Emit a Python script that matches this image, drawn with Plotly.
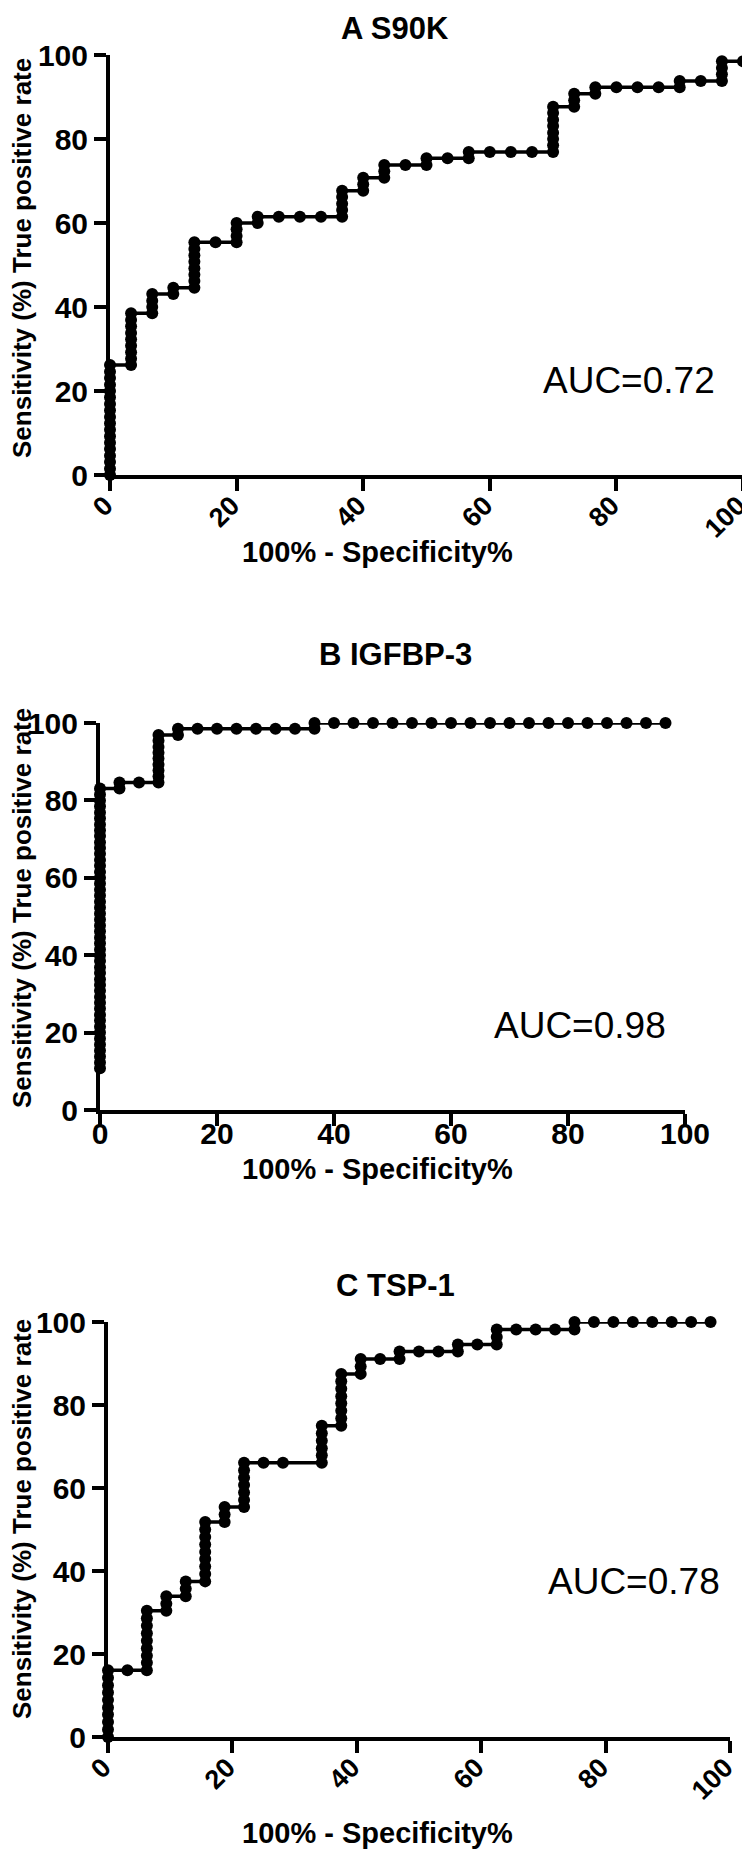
import plotly.graph_objects as go

# ---------------------------------------------------------------------------
# ROC points (x = 100% - specificity, y = sensitivity)
# ---------------------------------------------------------------------------
fpr_a = [
    0, 0, 0, 0, 0, 0, 0, 0, 0, 0, 0, 0, 0, 0, 0, 0, 0, 0,
    3.33, 3.33, 3.33, 3.33, 3.33, 3.33, 3.33, 3.33, 3.33,
    6.67, 6.67, 6.67, 6.67,
    10, 10,
    13.33, 13.33, 13.33, 13.33, 13.33, 13.33, 13.33, 13.33,
    16.67,
    20, 20, 20, 20,
    23.33, 23.33,
    26.67, 30, 33.33,
    36.67, 36.67, 36.67, 36.67, 36.67,
    40, 40, 40,
    43.33, 43.33, 43.33,
    46.67,
    50, 50,
    53.33,
    56.67, 56.67,
    60, 63.33, 66.67,
    70, 70, 70, 70, 70, 70, 70, 70,
    73.33, 73.33, 73.33,
    76.67, 76.67,
    80, 83.33, 86.67,
    90, 90,
    93.33,
    96.67, 96.67, 96.67, 96.67,
    100,
]
tpr_a = [
    0, 1.5, 3.1, 4.6, 6.2, 7.7, 9.2, 10.8, 12.3, 13.8, 15.4, 16.9, 18.5, 20.0, 21.5, 23.1, 24.6, 26.2,
    26.2, 27.7, 29.2, 30.8, 32.3, 33.8, 35.4, 36.9, 38.5,
    38.5, 40.0, 41.5, 43.1,
    43.1, 44.6,
    44.6, 46.2, 47.7, 49.2, 50.8, 52.3, 53.8, 55.4,
    55.4,
    55.4, 56.9, 58.5, 60.0,
    60.0, 61.5,
    61.5, 61.5, 61.5,
    61.5, 63.1, 64.6, 66.2, 67.7,
    67.7, 69.2, 70.8,
    70.8, 72.3, 73.8,
    73.8,
    73.8, 75.4,
    75.4,
    75.4, 76.9,
    76.9, 76.9, 76.9,
    76.9, 78.5, 80.0, 81.5, 83.1, 84.6, 86.2, 87.7,
    87.7, 89.2, 90.8,
    90.8, 92.3,
    92.3, 92.3, 92.3,
    92.3, 93.8,
    93.8,
    93.8, 95.4, 96.9, 98.5,
    98.5,
]

fpr_b = [
    0, 0, 0, 0, 0, 0, 0, 0, 0, 0, 0, 0,
    0, 0, 0, 0, 0, 0, 0, 0, 0, 0, 0, 0,
    0, 0, 0, 0, 0, 0, 0, 0, 0, 0, 0, 0,
    0, 0, 0, 0, 0, 0, 0, 0, 0, 0, 0, 0,
    3.33, 3.33,
    6.67,
    10, 10, 10, 10, 10, 10, 10, 10, 10,
    13.33, 13.33,
    16.67, 20, 23.33, 26.67, 30, 33.33,
    36.67, 36.67,
    40, 43.33, 46.67, 50, 53.33, 56.67, 60, 63.33, 66.67,
    70, 73.33, 76.67, 80, 83.33, 86.67, 90, 93.33, 96.67,
]
tpr_b = [
    10.8, 12.3, 13.8, 15.4, 16.9, 18.5, 20.0, 21.5, 23.1, 24.6, 26.2, 27.7,
    29.2, 30.8, 32.3, 33.8, 35.4, 36.9, 38.5, 40.0, 41.5, 43.1, 44.6, 46.2,
    47.7, 49.2, 50.8, 52.3, 53.8, 55.4, 56.9, 58.5, 60.0, 61.5, 63.1, 64.6,
    66.2, 67.7, 69.2, 70.8, 72.3, 73.8, 75.4, 76.9, 78.5, 80.0, 81.5, 83.1,
    83.1, 84.6,
    84.6,
    84.6, 86.2, 87.7, 89.2, 90.8, 92.3, 93.8, 95.4, 96.9,
    96.9, 98.5,
    98.5, 98.5, 98.5, 98.5, 98.5, 98.5,
    98.5, 100,
    100, 100, 100, 100, 100, 100, 100, 100, 100,
    100, 100, 100, 100, 100, 100, 100, 100, 100,
]

fpr_c = [
    0, 0, 0, 0, 0, 0, 0, 0, 0, 0,
    3.125,
    6.25, 6.25, 6.25, 6.25, 6.25, 6.25, 6.25, 6.25, 6.25,
    9.375, 9.375, 9.375,
    12.5, 12.5, 12.5,
    15.625, 15.625, 15.625, 15.625, 15.625, 15.625, 15.625, 15.625, 15.625,
    18.75, 18.75, 18.75,
    21.875, 21.875, 21.875, 21.875, 21.875, 21.875, 21.875,
    25, 28.125,
    34.375, 34.375, 34.375, 34.375, 34.375, 34.375,
    37.5, 37.5, 37.5, 37.5, 37.5, 37.5, 37.5, 37.5,
    40.625, 40.625, 40.625,
    43.75,
    46.875, 46.875,
    50, 53.125,
    56.25, 56.25,
    59.375,
    62.5, 62.5, 62.5,
    65.625, 68.75, 71.875,
    75, 75,
    78.125, 81.25, 84.375, 87.5, 90.625, 93.75, 96.875,
]
tpr_c = [
    0, 1.8, 3.6, 5.4, 7.1, 8.9, 10.7, 12.5, 14.3, 16.1,
    16.1,
    16.1, 17.9, 19.6, 21.4, 23.2, 25.0, 26.8, 28.6, 30.4,
    30.4, 32.1, 33.9,
    33.9, 35.7, 37.5,
    37.5, 39.3, 41.1, 42.9, 44.6, 46.4, 48.2, 50.0, 51.8,
    51.8, 53.6, 55.4,
    55.4, 57.1, 58.9, 60.7, 62.5, 64.3, 66.1,
    66.1, 66.1,
    66.1, 67.9, 69.6, 71.4, 73.2, 75.0,
    75.0, 76.8, 78.6, 80.4, 82.1, 83.9, 85.7, 87.5,
    87.5, 89.3, 91.1,
    91.1,
    91.1, 92.9,
    92.9, 92.9,
    92.9, 94.6,
    94.6,
    94.6, 96.4, 98.2,
    98.2, 98.2, 98.2,
    98.2, 100,
    100, 100, 100, 100, 100, 100, 100,
]

panel_titles = ["A S90K", "B IGFBP-3", "C TSP-1"]
auc_labels = ["AUC=0.72", "AUC=0.98", "AUC=0.78"]
x_ticks = [0, 20, 40, 60, 80, 100]
y_ticks = [0, 20, 40, 60, 80, 100]

X_TITLE = "100% - Specificity%"
Y_TITLE = "Sensitivity (%) True positive rate"

for xs, ys in [(fpr_a, tpr_a), (fpr_b, tpr_b), (fpr_c, tpr_c)]:
    assert len(xs) == len(ys)

# ---------------------------------------------------------------------------
# Page geometry (pixels on the 750 x 1860 page)
# ---------------------------------------------------------------------------
W, H = 750, 1860
PAGE_OFFSET = 8  # the page body's default margin pushes the figure 8px right/down
SANS = "Liberation Sans, Arial, sans-serif"

# box = (left, right, bottom, top) of each plot area in page pixels
panels = [
    dict(box=(110, 743, 475, 55), slant=True, title_y=29, xtitle_y=552, ytitle_y=258,
         auc=(82, 22.4)),
    dict(box=(100, 685, 1110, 723), slant=False, title_y=654, xtitle_y=1169, ytitle_y=908,
         auc=(82, 21.8)),
    dict(box=(108, 730, 1737, 1322), slant=True, title_y=1285, xtitle_y=1833, ytitle_y=1519,
         auc=(84.5, 37.4)),
]
series = [(fpr_a, tpr_a), (fpr_b, tpr_b), (fpr_c, tpr_c)]


def px_x(v):
    return (v - PAGE_OFFSET) / W


def px_y(v):
    return 1 - (v - PAGE_OFFSET) / H


fig = go.Figure()
annotations = []

for i, (p, (xs, ys)) in enumerate(zip(panels, series)):
    n = "" if i == 0 else str(i + 1)
    left, right, bottom, top = p["box"]

    fig.add_trace(go.Scatter(
        x=xs, y=ys,
        xaxis="x" + n, yaxis="y" + n,
        mode="lines+markers",
        line=dict(color="black", width=3.5),
        marker=dict(color="black", size=12),
        cliponaxis=False,
        showlegend=False,
        hoverinfo="x+y",
    ))

    axis_common = dict(
        range=[0, 100],
        automargin=False,
        ticklabeloverflow="allow",
        showline=True, linecolor="black", linewidth=4,
        ticks="outside", ticklen=12, tickwidth=4, tickcolor="black",
        showgrid=False, zeroline=False,
        tickfont=dict(family=SANS, size=30, color="black", weight="bold"),
    )
    x_extra = dict(tickangle=0, ticklabelstandoff=-18)
    if p["slant"]:
        x_extra = dict(
            tickangle=-45, ticklabelstandoff=-12, ticklabelshift=-5,
            tickfont=dict(family=SANS, size=27, color="black", weight="bold"),
        )
    fig.update_layout(**{
        "xaxis" + n: dict(
            axis_common,
            domain=[px_x(left), px_x(right)],
            anchor="y" + n,
            tickvals=x_ticks,
            **x_extra,
        ),
        "yaxis" + n: dict(
            axis_common,
            domain=[px_y(bottom), px_y(top)],
            anchor="x" + n,
            tickvals=y_ticks,
        ),
    })

    annotations += [
        dict(text=panel_titles[i], xref="paper", yref="paper",
             x=px_x(395), y=px_y(p["title_y"]), xanchor="center", yanchor="middle",
             showarrow=False, font=dict(family=SANS, size=31, color="black", weight="bold")),
        dict(text=X_TITLE, xref="paper", yref="paper",
             x=px_x(377), y=px_y(p["xtitle_y"]), xanchor="center", yanchor="middle",
             showarrow=False, font=dict(family=SANS, size=29, color="black", weight="bold")),
        dict(text=Y_TITLE, xref="paper", yref="paper", textangle=-90,
             x=px_x(22), y=px_y(p["ytitle_y"]), xanchor="center", yanchor="middle",
             showarrow=False, font=dict(family=SANS, size=26, color="black", weight="bold")),
        dict(text=auc_labels[i], xref="x" + n, yref="y" + n,
             x=p["auc"][0], y=p["auc"][1], xanchor="center", yanchor="middle",
             showarrow=False, font=dict(family=SANS, size=37, color="black")),
    ]

fig.update_layout(
    width=W, height=H,
    margin=dict(l=0, r=0, t=0, b=0),
    paper_bgcolor="white",
    plot_bgcolor="white",
    showlegend=False,
    annotations=annotations,
)

fig.write_html("out.html")
